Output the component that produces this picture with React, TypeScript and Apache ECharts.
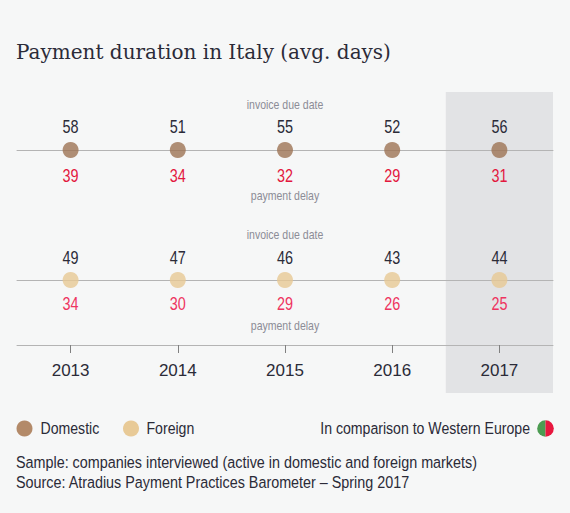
import React, { useEffect, useRef } from 'react';
import * as echarts from 'echarts';

const years = ['2013', '2014', '2015', '2016', '2017'];
const domesticDue = [58, 51, 55, 52, 56];
const domesticDelay = [39, 34, 32, 29, 31];
const foreignDue = [49, 47, 46, 43, 44];
const foreignDelay = [34, 30, 29, 26, 25];
const highlightYear = '2017';
const seriesNames = ['Domestic', 'Foreign'];
const titleText = 'Payment duration in Italy (avg. days)';
const dueLabel = 'invoice due date';
const delayLabel = 'payment delay';
const comparisonLabel = 'In comparison to Western Europe';
const notes = [
  'Sample: companies interviewed (active in domestic and foreign markets)',
  'Source: Atradius Payment Practices Barometer \u2013 Spring 2017',
];

const SANS = "'Liberation Sans',Arial,sans-serif";
const SERIF = "'DejaVu Serif',serif";
const DARK = '#2b2b38';
const LINE = '#b4b4b4';
const SMALL = '#8c8c96';
const NARROW_SCALE = 0.83;
const DOM_COLOR = '#9e7354';
const FOR_COLOR = '#e7c894';

function narrowText(
  text: string,
  x: number,
  y: number,
  size: number,
  fill: string,
  align: string,
  scale = NARROW_SCALE
) {
  return {
    type: 'text',
    x,
    y,
    scaleX: scale,
    style: {
      text,
      fill,
      fontSize: size,
      fontFamily: SANS,
      textAlign: align,
      textVerticalAlign: 'middle',
      align,
      verticalAlign: 'middle',
    },
  };
}

function rowSeries(
  name: string,
  due: number[],
  delay: number[],
  idx: number,
  color: string,
  upOff: number,
  downOff: number,
  delayColor: string
): any[] {
  return [
    {
      name,
      type: 'scatter',
      xAxisIndex: idx,
      yAxisIndex: idx,
      data: years.map((y) => [y, 0]),
      clip: false,
      symbol: 'circle',
      symbolSize: 16,
      itemStyle: { color },
      z: 5,
    },
    {
      name: name + ' labels',
      type: 'custom',
      coordinateSystem: 'cartesian2d',
      xAxisIndex: idx,
      yAxisIndex: idx,
      clip: false,
      z: 6,
      data: years.map((y, i) => [y, 0, due[i], delay[i]]),
      renderItem: (_params: any, api: any) => {
        const p = api.coord([api.value(0), api.value(1)]);
        return {
          type: 'group',
          children: [
            narrowText(String(api.value(2)), p[0], p[1] + upOff, 18, DARK, 'center', 0.8),
            narrowText(String(api.value(3)), p[0], p[1] + downOff, 18, delayColor, 'center', 0.8),
          ],
        };
      },
    },
  ];
}

export default function App() {
  const ref = useRef<HTMLDivElement>(null);

  useEffect(() => {
    if (!ref.current) return;
    const chart = echarts.init(ref.current, undefined, { renderer: 'svg' });

    const rowAxis = (gridIndex: number) => ({
      type: 'category',
      gridIndex,
      data: years,
      boundaryGap: true,
      axisLine: { show: true, lineStyle: { color: LINE, width: 1 } },
      axisTick: { show: false },
      axisLabel: { show: false },
      splitLine: { show: false },
    });
    const hiddenY = (gridIndex: number) => ({
      type: 'value',
      gridIndex,
      min: 0,
      max: 1,
      show: false,
    });

    const option: any = {
      animation: false,
      backgroundColor: '#f6f7f7',
      title: {
        text: titleText,
        left: 16,
        top: 41,
        padding: 0,
        textStyle: {
          fontFamily: SERIF,
          fontSize: 20,
          fontWeight: 'normal',
          color: DARK,
          lineHeight: 22,
        },
      },
      grid: [
        { left: 17, right: 17, top: 92, height: 301 },
        { left: 17, right: 17, top: 100, height: 50 },
        { left: 17, right: 17, top: 230, height: 50 },
        { left: 17, right: 17, top: 295, height: 50 },
      ],
      xAxis: [
        { type: 'category', gridIndex: 0, data: years, boundaryGap: true, show: false },
        rowAxis(1),
        rowAxis(2),
        {
          type: 'category',
          gridIndex: 3,
          data: years,
          boundaryGap: true,
          axisLine: { show: true, lineStyle: { color: LINE, width: 1 } },
          axisTick: { show: true, alignWithLabel: true, length: 8, lineStyle: { color: '#808080' } },
          axisLabel: { show: true, fontSize: 17, color: DARK, fontFamily: SANS, margin: 17 },
          splitLine: { show: false },
        },
      ],
      yAxis: [hiddenY(0), hiddenY(1), hiddenY(2), hiddenY(3)],
      series: [
        {
          name: 'highlight',
          type: 'bar',
          xAxisIndex: 0,
          yAxisIndex: 0,
          data: years.map((y) => (y === highlightYear ? 1 : '-')),
          barWidth: '100%',
          itemStyle: { color: '#e2e3e5' },
          silent: true,
          z: -1,
        },
        ...rowSeries(seriesNames[0], domesticDue, domesticDelay, 1, DOM_COLOR, -23.5, 25.5, '#e3173e'),
        ...rowSeries(seriesNames[1], foreignDue, foreignDelay, 2, FOR_COLOR, -23, 23, '#ee3460'),
      ],
      graphic: [
        narrowText(dueLabel, 285, 105, 13, SMALL, 'center', 0.81),
        narrowText(delayLabel, 285, 196, 13, SMALL, 'center', 0.81),
        narrowText(dueLabel, 285, 234.5, 13, SMALL, 'center', 0.81),
        narrowText(delayLabel, 285, 326, 13, SMALL, 'center', 0.81),
        {
          type: 'circle',
          shape: { cx: 24.5, cy: 428.5, r: 8 },
          style: { fill: '#b38a69' },
        },
        narrowText(seriesNames[0], 40.5, 428.5, 17, DARK, 'left'),
        {
          type: 'circle',
          shape: { cx: 131, cy: 428.5, r: 8 },
          style: { fill: '#e8ca97' },
        },
        narrowText(seriesNames[1], 146.5, 428.5, 17, DARK, 'left'),
        narrowText(comparisonLabel, 530, 428.5, 17, DARK, 'right'),
        {
          type: 'sector',
          shape: { cx: 545.5, cy: 428.5, r: 8.3, startAngle: Math.PI / 2, endAngle: (Math.PI * 3) / 2 },
          style: { fill: '#4c9c52' },
        },
        {
          type: 'sector',
          shape: { cx: 545.5, cy: 428.5, r: 8.3, startAngle: -Math.PI / 2, endAngle: Math.PI / 2 },
          style: { fill: '#e8173f' },
        },
        ...notes.map((t, i) => narrowText(t, 16, 462 + i * 20, 17, DARK, 'left', 0.845)),
      ],
    };

    chart.setOption(option);
    return () => chart.dispose();
  }, []);

  return (
    <div
      ref={ref}
      style={{ position: 'absolute', left: 0, top: 0, width: 570, height: 513 }}
    />
  );
}
